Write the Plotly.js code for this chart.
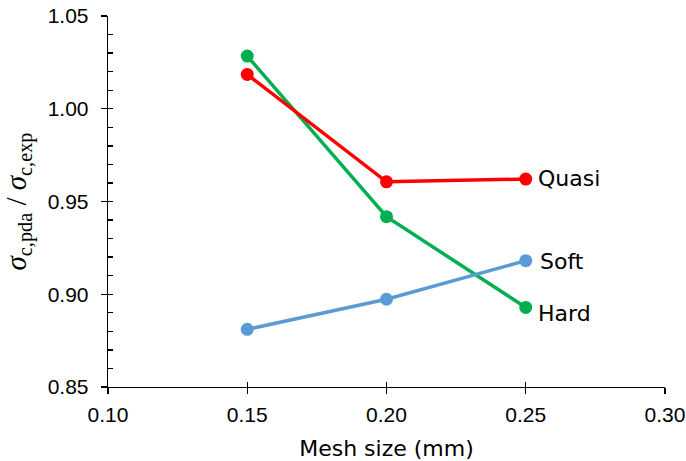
<!DOCTYPE html>
<html>
<head>
<meta charset="utf-8">
<script src="https://cdn.plot.ly/plotly-3.0.1.min.js"></script>
<style>
  html, body { margin: 0; padding: 0; background: #fff; }
  #chart { width: 686px; height: 461px; }
</style>
</head>
<body>
<div id="chart"></div>
<script>
// Mesh sizes (mm) and normalised strength for each failure model
const meshSize = [0.15, 0.20, 0.25];
const quasi = [1.0185, 0.9606, 0.9621];
const hard = [1.0284, 0.9418, 0.8929];
const soft = [0.8811, 0.8973, 0.9181];

const seriesNames = ['Hard', 'Quasi', 'Soft'];
const seriesData = [hard, quasi, soft];
const seriesColors = ['#00B050', '#FF0000', '#5B9BD5'];
// label offsets next to the last point (px)
const labelShift = { Hard: { dx: 10, dy: -6 }, Quasi: { dx: 10, dy: 1 }, Soft: { dx: 12, dy: -1 } };

const xRange = [0.10, 0.30];
const yRange = [0.85, 1.05];

const traces = seriesNames.map((name, i) => ({
  x: meshSize,
  y: seriesData[i],
  name: name,
  type: 'scatter',
  mode: 'lines+markers',
  line: { color: seriesColors[i], width: 3.5 },
  marker: { color: seriesColors[i], size: 13 },
  hoverinfo: 'x+y+name'
}));

// invisible trace on the overlay axes that carry the inner tick marks
traces.push({
  x: meshSize, y: soft, xaxis: 'x2', yaxis: 'y2',
  type: 'scatter', mode: 'markers',
  marker: { opacity: 0 }, hoverinfo: 'skip', showlegend: false
});

const annotations = seriesNames.map((name, i) => ({
  x: meshSize[meshSize.length - 1],
  y: seriesData[i][seriesData[i].length - 1],
  xref: 'x', yref: 'y',
  text: name,
  showarrow: false,
  xanchor: 'left', yanchor: 'middle',
  xshift: labelShift[name].dx, yshift: labelShift[name].dy,
  font: { family: 'DejaVu Sans, Verdana, sans-serif', size: 22, color: '#000' }
}));

const tickFont = { family: 'Liberation Sans, Arial, sans-serif', size: 21, color: '#000' };

const layout = {
  width: 686, height: 461,
  margin: { l: 108, r: 21, t: 16, b: 74, pad: 0 },
  paper_bgcolor: '#fff', plot_bgcolor: '#fff',
  showlegend: false,
  xaxis: {
    range: xRange, dtick: 0.05, tickformat: '.2f',
    showgrid: false, zeroline: false,
    showline: true, linecolor: '#000', linewidth: 1.3,
    ticks: 'outside', ticklen: 6, tickwidth: 1.3, tickcolor: '#000',
    ticklabelstandoff: 2,
    tickfont: tickFont,
    title: { text: 'Mesh size (mm)', standoff: 17,
             font: { family: 'DejaVu Sans, Verdana, sans-serif', size: 22, color: '#000' } }
  },
  yaxis: {
    range: yRange, dtick: 0.05, tickformat: '.2f',
    showgrid: false, zeroline: false,
    showline: true, linecolor: '#000', linewidth: 1.3,
    ticks: 'outside', ticklen: 6, tickwidth: 1.3, tickcolor: '#000',
    ticklabelstandoff: 8,
    tickfont: tickFont,
    title: { text: '<i>σ</i><sub>c,pda</sub> / <i>σ</i><sub>c,exp</sub>', standoff: 12,
             font: { family: 'Liberation Serif, Times New Roman, serif', size: 29, color: '#000' } }
  },
  xaxis2: {
    overlaying: 'x', anchor: 'y2', range: xRange, dtick: 0.05,
    showgrid: false, zeroline: false, showline: false, showticklabels: false,
    ticks: 'inside', ticklen: 5, tickwidth: 1.3, tickcolor: '#000'
  },
  yaxis2: {
    overlaying: 'y', anchor: 'x2', range: yRange, dtick: 0.01,
    showgrid: false, zeroline: false, showline: false, showticklabels: false,
    ticks: 'inside', ticklen: 5, tickwidth: 1.3, tickcolor: '#000'
  },
  annotations: annotations
};

Plotly.newPlot('chart', traces, layout, { displayModeBar: false, staticPlot: true });
</script>
</body>
</html>
